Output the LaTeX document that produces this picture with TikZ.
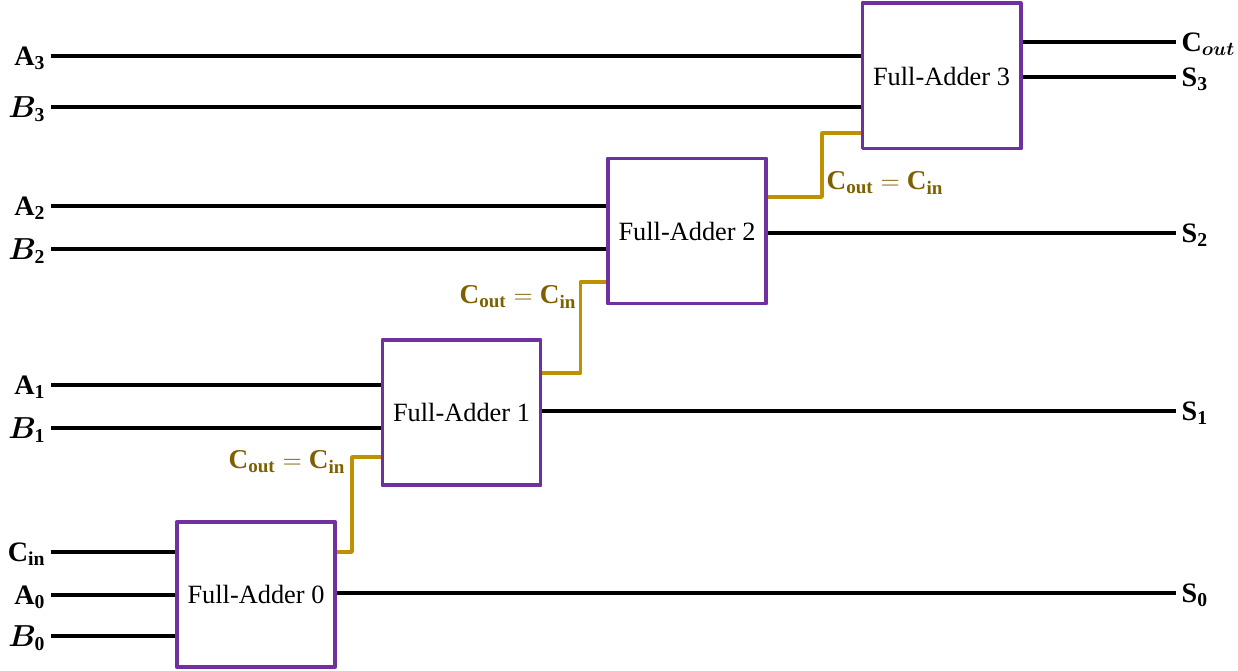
\documentclass[tikz,border=0pt]{standalone}
\usepackage{fontspec}
\setmainfont{Liberation Serif}
\usepackage{bm}
\definecolor{fapurple}{RGB}{112,48,160}
\definecolor{cgold}{RGB}{191,144,0}
\definecolor{ctext}{RGB}{127,96,0}
\begin{document}
\begin{tikzpicture}[x=0.02cm,y=-0.02cm,line join=round,
    fa/.style={draw=fapurple,line width=2pt,minimum width=3.17cm,minimum height=2.91cm,
      inner sep=0pt,font=\fontsize{15}{18}\selectfont},
    wire/.style={line width=2pt},
    carry/.style={draw=cgold,line width=2pt},
    inl/.style={anchor=east,inner sep=3pt,text depth=0pt,font=\fontsize{16}{18}\selectfont},
    outl/.style={anchor=west,inner sep=3pt,text depth=0pt,font=\fontsize{16}{18}\selectfont},
    cl/.style={text=ctext,inner sep=1pt,font=\fontsize{15.5}{18}\selectfont}]
  \useasboundingbox (0,0) rectangle (1238,671);
  % the four adders
  \node[fa] (fa0) at (256,594.5) {Full-Adder 0};
  \node[fa] (fa1) at (461.5,412.5) {Full-Adder 1};
  \node[fa] (fa2) at (687,231) {Full-Adder 2};
  \node[fa] (fa3) at (941.5,76) {Full-Adder 3};
  % inputs
  \node[inl] (a3) at (51,56) {$\mathbf{A_3}$};
  \node[inl] (b3) at (51,107) {$\bm{B}_{\mathbf{3}}$};
  \node[inl] (a2) at (51,206) {$\mathbf{A_2}$};
  \node[inl] (b2) at (51,249) {$\bm{B}_{\mathbf{2}}$};
  \node[inl] (a1) at (51,385) {$\mathbf{A_1}$};
  \node[inl] (b1) at (51,428) {$\bm{B}_{\mathbf{1}}$};
  \node[inl] (cin) at (51,552) {$\mathbf{C_{in}}$};
  \node[inl] (a0) at (51,595) {$\mathbf{A_0}$};
  \node[inl] (b0) at (51,636) {$\bm{B}_{\mathbf{0}}$};
  \draw[wire] (a3.east) -- (a3.east -| fa3.west);
  \draw[wire] (b3.east) -- (b3.east -| fa3.west);
  \draw[wire] (a2.east) -- (a2.east -| fa2.west);
  \draw[wire] (b2.east) -- (b2.east -| fa2.west);
  \draw[wire] (a1.east) -- (a1.east -| fa1.west);
  \draw[wire] (b1.east) -- (b1.east -| fa1.west);
  \draw[wire] (cin.east) -- (cin.east -| fa0.west);
  \draw[wire] (a0.east) -- (a0.east -| fa0.west);
  \draw[wire] (b0.east) -- (b0.east -| fa0.west);
  % outputs
  \node[outl] (cout) at (1176,42) {$\mathbf{C}_{\bm{out}}$};
  \node[outl] (s3) at (1176,77) {$\mathbf{S_3}$};
  \node[outl] (s2) at (1176,233) {$\mathbf{S_2}$};
  \node[outl] (s1) at (1176,411) {$\mathbf{S_1}$};
  \node[outl] (s0) at (1176,593) {$\mathbf{S_0}$};
  \draw[wire] (cout.west -| fa3.east) -- (cout.west);
  \draw[wire] (s3.west -| fa3.east) -- (s3.west);
  \draw[wire] (s2.west -| fa2.east) -- (s2.west);
  \draw[wire] (s1.west -| fa1.east) -- (s1.west);
  \draw[wire] (s0.west -| fa0.east) -- (s0.west);
  % ripple carries
  \draw[carry] (fa0.east |- 0,552) -- ++(15,0) |- (fa1.west |- 0,457);
  \draw[carry] (fa1.east |- 0,373) -- ++(38,0) |- (fa2.west |- 0,282);
  \draw[carry] (fa2.east |- 0,197) -- ++(54,0) |- (fa3.west |- 0,133);
  \node[cl] (c01) at (287,462) {$\mathbf{C_{out}=C_{in}}$};
  \node[cl] (c12) at (518,297) {$\mathbf{C_{out}=C_{in}}$};
  \node[cl] (c23) at (885,183) {$\mathbf{C_{out}=C_{in}}$};
\end{tikzpicture}
\end{document}
